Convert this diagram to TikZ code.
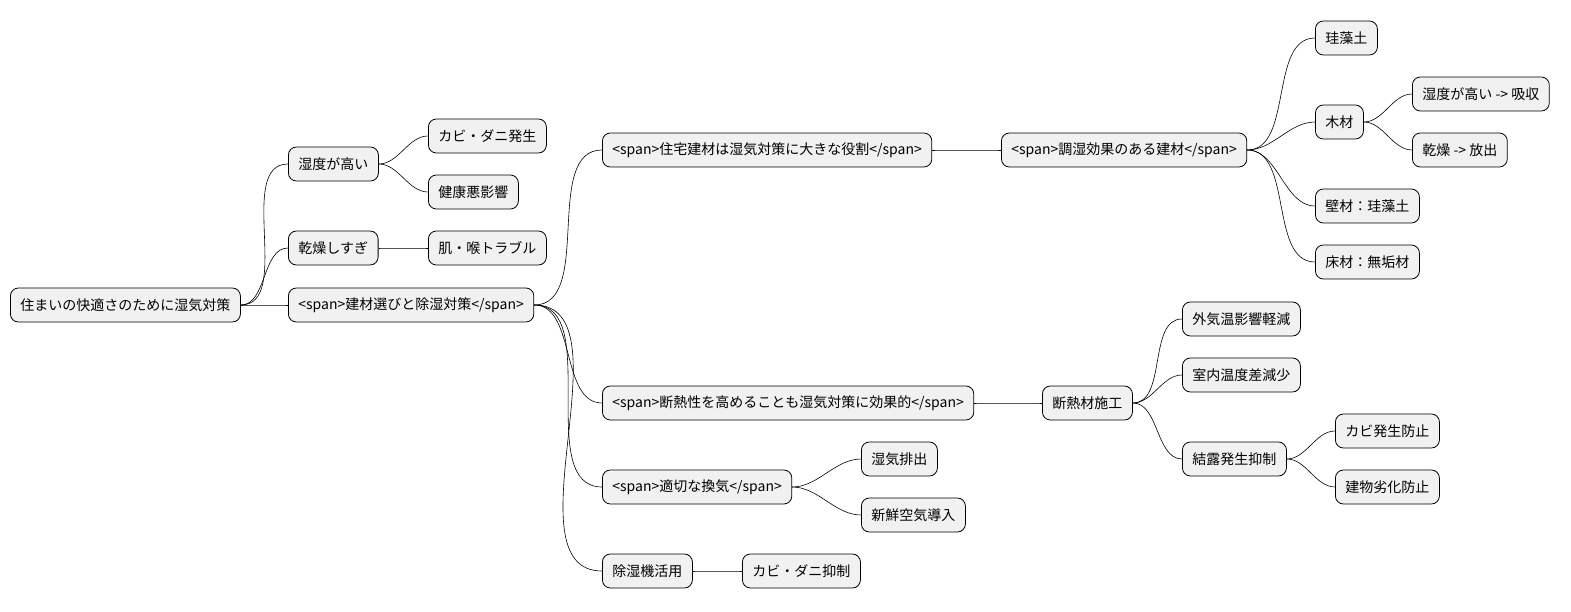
\documentclass[tikz,border=0pt]{standalone}
\usepackage{fontspec}
\setmainfont{Noto Sans CJK JP}
\usetikzlibrary{positioning}
\definecolor{boxfill}{HTML}{F1F1F1}
\begin{document}
\begin{tikzpicture}[x=1pt,y=-1pt,
   topic/.style={draw,rounded corners=8pt,fill=boxfill,anchor=west,minimum height=34pt,
     inner xsep=10pt,font=\fontsize{14pt}{16pt}\selectfont,line width=0.8pt},
   link/.style={out=0,in=180,looseness=0.9,line width=0.6pt}]
   \useasboundingbox (0,0) rectangle (1571,612);
   \node[topic] (root)  at (10,305)   {住まいの快適さのために湿気対策};
   \node[topic] (high)  at (288,164)  {湿度が高い};
   \node[topic] (mold)  at (428,136)  {カビ・ダニ発生};
   \node[topic] (hlth)  at (428,192)  {健康悪影響};
   \node[topic] (dry)   at (288,248)  {乾燥しすぎ};
   \node[topic] (skin)  at (428,248)  {肌・喉トラブル};
   \node[topic] (mat)   at (288,305)  {<span>建材選びと除湿対策</span>};
   \node[topic] (role)  at (602,150)  {<span>住宅建材は湿気対策に大きな役割</span>};
   \node[topic] (ctrl)  at (1001,150) {<span>調湿効果のある建材</span>};
   \node[topic] (diat)  at (1315,38)  {珪藻土};
   \node[topic] (wood)  at (1315,122) {木材};
   \node[topic] (absb)  at (1412,94)  {湿度が高い -> 吸収};
   \node[topic] (rels)  at (1412,150) {乾燥 -> 放出};
   \node[topic] (wall)  at (1315,206) {壁材：珪藻土};
   \node[topic] (floor) at (1315,262) {床材：無垢材};
   \node[topic] (insl)  at (602,403)  {<span>断熱性を高めることも湿気対策に効果的</span>};
   \node[topic] (work)  at (1042,403) {断熱材施工};
   \node[topic] (outer) at (1182,319) {外気温影響軽減};
   \node[topic] (inner) at (1182,375) {室内温度差減少};
   \node[topic] (cond)  at (1182,459) {結露発生抑制};
   \node[topic] (mprev) at (1335,431) {カビ発生防止};
   \node[topic] (bprev) at (1335,487) {建物劣化防止};
   \node[topic] (vent)  at (602,487)  {<span>適切な換気</span>};
   \node[topic] (exh)   at (861,459)  {湿気排出};
   \node[topic] (fresh) at (861,515)  {新鮮空気導入};
   \node[topic] (dehu)  at (602,571)  {除湿機活用};
   \node[topic] (msup)  at (742,571)  {カビ・ダニ抑制};
   \path
    (root.east) edge[link] (high.west)
    (root.east) edge[link] (dry.west)
    (root.east) edge[link] (mat.west)
    (high.east) edge[link] (mold.west)
    (high.east) edge[link] (hlth.west)
    (dry.east)  edge[link] (skin.west)
    (mat.east)  edge[link] (role.west)
    (mat.east)  edge[link] (insl.west)
    (mat.east)  edge[link] (vent.west)
    (mat.east)  edge[link] (dehu.west)
    (role.east) edge[link] (ctrl.west)
    (ctrl.east) edge[link] (diat.west)
    (ctrl.east) edge[link] (wood.west)
    (ctrl.east) edge[link] (wall.west)
    (ctrl.east) edge[link] (floor.west)
    (wood.east) edge[link] (absb.west)
    (wood.east) edge[link] (rels.west)
    (insl.east) edge[link] (work.west)
    (work.east) edge[link] (outer.west)
    (work.east) edge[link] (inner.west)
    (work.east) edge[link] (cond.west)
    (cond.east) edge[link] (mprev.west)
    (cond.east) edge[link] (bprev.west)
    (vent.east) edge[link] (exh.west)
    (vent.east) edge[link] (fresh.west)
    (dehu.east) edge[link] (msup.west);
\end{tikzpicture}
\end{document}
